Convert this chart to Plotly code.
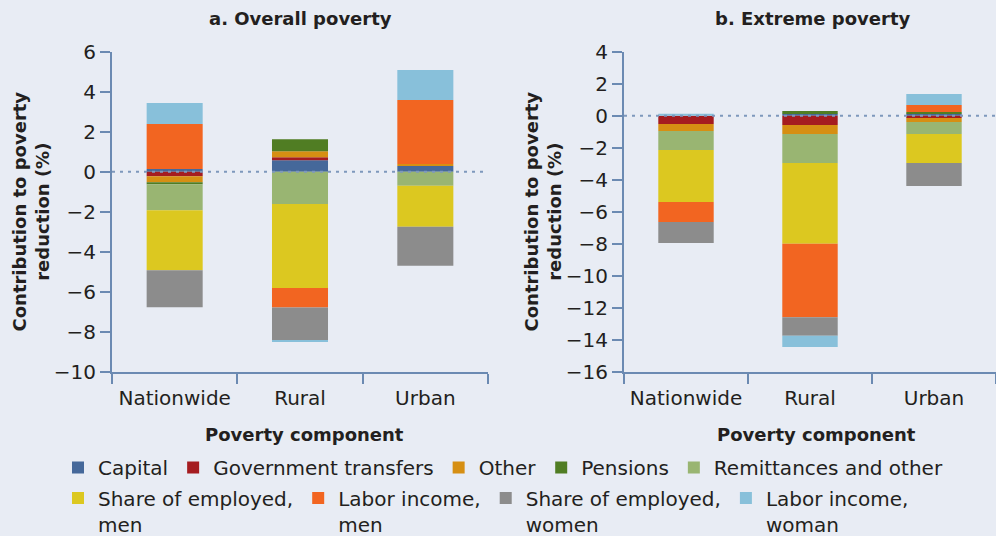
import plotly.graph_objects as go

# ---------------- data ----------------
categories = ["Nationwide", "Rural", "Urban"]

series_names = [
    "Capital", "Government transfers", "Other", "Pensions", "Remittances and other",
    "Share of employed,<br>men", "Labor income,<br>men",
    "Share of employed,<br>women", "Labor income,<br>woman",
]
series_colors = [
    "#45689A", "#A51C20", "#D68F13", "#507D23", "#99B572",
    "#DCC820", "#F26521", "#8C8C8C", "#88C0DA",
]

# a. Overall poverty (contribution, %)
overall_capital = [0.13, 0.57, 0.28]
overall_gov_transfers = [-0.23, 0.15, 0.0]
overall_other = [-0.30, 0.30, 0.10]
overall_pensions = [-0.10, 0.60, 0.0]
overall_remittances = [-1.30, -1.62, -0.70]
overall_share_emp_men = [-3.00, -4.20, -2.05]
overall_labor_inc_men = [2.25, -0.97, 3.20]
overall_share_emp_women = [-1.85, -1.63, -1.95]
overall_labor_inc_woman = [1.05, -0.10, 1.50]

# b. Extreme poverty (contribution, %)
extreme_capital = [0.0, 0.10, 0.10]
extreme_gov_transfers = [-0.52, -0.58, -0.15]
extreme_other = [-0.44, -0.56, -0.25]
extreme_pensions = [0.0, 0.19, 0.13]
extreme_remittances = [-1.19, -1.81, -0.75]
extreme_share_emp_men = [-3.25, -5.06, -1.81]
extreme_labor_inc_men = [-1.25, -4.58, 0.44]
extreme_share_emp_women = [-1.31, -1.17, -1.44]
extreme_labor_inc_woman = [0.08, -0.69, 0.69]

overall_series = [overall_capital, overall_gov_transfers, overall_other, overall_pensions,
                  overall_remittances, overall_share_emp_men, overall_labor_inc_men,
                  overall_share_emp_women, overall_labor_inc_woman]
extreme_series = [extreme_capital, extreme_gov_transfers, extreme_other, extreme_pensions,
                  extreme_remittances, extreme_share_emp_men, extreme_labor_inc_men,
                  extreme_share_emp_women, extreme_labor_inc_woman]

left_ticks = list(range(-10, 7, 2))
right_ticks = list(range(-16, 5, 2))

# ---------------- styling ----------------
W, H = 996, 536
BG = "#E8ECF4"
AXIS = "#6B8AB2"
TXT = "#231F20"
FONT = "DejaVu Sans"

fig = go.Figure()

for i, name in enumerate(series_names):
    leg = "legend" if i < 5 else "legend2"
    fig.add_trace(go.Bar(
        x=categories, y=overall_series[i], name=name,
        marker=dict(color=series_colors[i], line=dict(width=0)),
        xaxis="x", yaxis="y", legendgroup=name, showlegend=True, legend=leg,
    ))
    fig.add_trace(go.Bar(
        x=categories, y=extreme_series[i], name=name,
        marker=dict(color=series_colors[i], line=dict(width=0)),
        xaxis="x2", yaxis="y2", legendgroup=name, showlegend=False, legend=leg,
    ))


def px_x(p):
    return p / W


def px_y(p):
    return 1 - p / H


ydom = [px_y(371.7), px_y(51.7)]

common_x = dict(
    type="category", tickson="boundaries", ticks="outside", ticklen=10, tickwidth=2,
    tickcolor=AXIS, showline=True, linecolor=AXIS, linewidth=2, showgrid=False,
    zeroline=False, tickfont=dict(family=FONT, size=20, color=TXT),
    categoryorder="array", categoryarray=categories, automargin=False,
    ticklabelstandoff=7,
)
common_y = dict(
    ticks="outside", ticklen=10, tickwidth=2, tickcolor=AXIS, showline=True,
    linecolor=AXIS, linewidth=2, showgrid=False, zeroline=False,
    tickfont=dict(family=FONT, size=20, color=TXT), automargin=False,
)

legend_common = dict(orientation="h", xref="container", yref="container", xanchor="left",
                     yanchor="middle", bgcolor="rgba(0,0,0,0)",
                     font=dict(family=FONT, size=20, color=TXT),
                     traceorder="normal", valign="top", borderwidth=0)

fig.update_layout(
    width=W, height=H,
    margin=dict(l=0, r=0, t=0, b=0, pad=0, autoexpand=False),
    paper_bgcolor=BG, plot_bgcolor=BG,
    barmode="relative", bargap=0.553,
    font=dict(family=FONT, color=TXT),
    xaxis=dict(domain=[px_x(112), px_x(488)], anchor="y", **common_x),
    yaxis=dict(domain=ydom, anchor="x", range=[-10, 6], tickvals=left_ticks, **common_y),
    xaxis2=dict(domain=[px_x(624), 1.0], anchor="y2", **common_x),
    yaxis2=dict(domain=ydom, anchor="x2", range=[-16, 4], tickvals=right_ticks, **common_y),
    legend=dict(x=px_x(58), y=px_y(467.5), **legend_common),
    legend2=dict(x=px_x(58), y=px_y(511), **legend_common),
    showlegend=True,
)

# dotted zero reference lines
for xr, yr in (("x domain", "y"), ("x2 domain", "y2")):
    fig.add_shape(type="line", xref=xr, yref=yr, x0=0, x1=1, y0=0, y1=0,
                  line=dict(color="#7E98BC", width=2, dash="3px,5px"), layer="above")

ann = []
title_font = dict(family=FONT, size=18, color=TXT)
ann.append(dict(text="<b>a. Overall poverty</b>", x=px_x(300), y=px_y(18.5), xref="paper", yref="paper",
                showarrow=False, xanchor="center", yanchor="middle", font=title_font))
ann.append(dict(text="<b>b. Extreme poverty</b>", x=px_x(812), y=px_y(18.5), xref="paper", yref="paper",
                showarrow=False, xanchor="center", yanchor="middle", font=title_font))
ann.append(dict(text="<b>Poverty component</b>", x=px_x(304), y=px_y(434), xref="paper", yref="paper",
                showarrow=False, xanchor="center", yanchor="middle", font=title_font))
ann.append(dict(text="<b>Poverty component</b>", x=px_x(816), y=px_y(434), xref="paper", yref="paper",
                showarrow=False, xanchor="center", yanchor="middle", font=title_font))
for cx in (30.5, 542.5):
    ann.append(dict(text="<b>Contribution to poverty<br>reduction (%)</b>", x=px_x(cx), y=px_y(212),
                    xref="paper", yref="paper", showarrow=False, textangle=-90,
                    xanchor="center", yanchor="middle", align="center", font=title_font))
fig.update_layout(annotations=ann)

fig.write_html("out.html", config={"displayModeBar": False},
               post_script="document.body.style.margin='0px';")
